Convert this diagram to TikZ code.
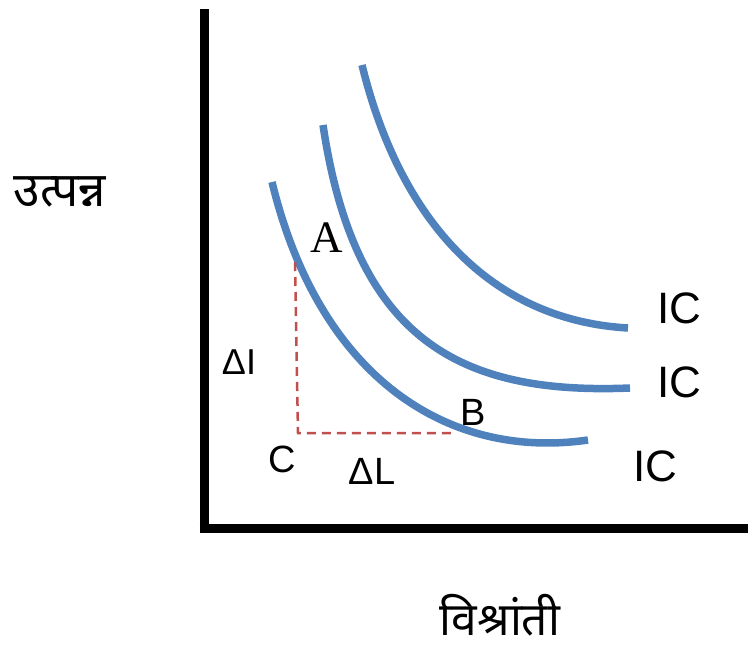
\documentclass[tikz,border=0pt]{standalone}
\usepackage{fontspec}
\setmainfont{Liberation Sans}
\newfontfamily\serifA{Liberation Serif}
\newfontfamily\deva[Script=Devanagari]{Noto Sans}
\begin{document}
\begin{tikzpicture}[x=1pt,y=-1pt,
  axis/.style={line width=9pt,black},
  iccurve/.style={line width=7.5pt,color=icblue},
  guide/.style={line width=2.5pt,color=dashred,dash pattern=on 9pt off 6pt},
  lbl/.style={inner sep=0pt,font=\fontsize{38}{40}\selectfont},
  iclbl/.style={inner sep=0pt,font=\fontsize{44}{46}\selectfont},
  devlbl/.style={inner sep=0pt,font=\deva\fontsize{48}{52}\selectfont}]
\definecolor{icblue}{HTML}{4F81BD}
\definecolor{dashred}{HTML}{C0504D}
\useasboundingbox (0,0) rectangle (748,649);
% axes
\coordinate (top) at (204,9);
\coordinate (origin) at (204,528);
\coordinate (xend) at (748,528);
\draw[axis] (top) -- ([yshift=4.5pt]origin) ;
\draw[axis] ([xshift=-4.5pt]origin) -- (xend);
% curves
\draw[iccurve] (272,182) .. controls (320,380) and (450,460) .. (588,440);
\draw[iccurve] (323,125) .. controls (355,340) and (460,395) .. (630,388);
\draw[iccurve] (362,65) .. controls (400,220) and (490,320) .. (628,328);
% guide lines
\coordinate (pA) at (295,262);
\coordinate (pC) at (298,433);
\coordinate (pB) at (456,433);
\draw[guide] (pA) -- (pC) -- (pB);
% labels
\node[inner sep=0pt,font=\serifA\fontsize{45}{46}\selectfont] (A) at (327,238) {A};
\node[lbl] (B) at (473,412) {B};
\node[lbl] (C) at (282,459) {C};
\node[lbl,font=\fontsize{36}{38}\selectfont] (dI) at (239,362) {ΔI};
\node[lbl] (dL) at (372,471) {ΔL};
\node[iclbl] (ic3) at (679,308) {IC};
\node[iclbl] (ic2) at (679,382) {IC};
\node[iclbl] (ic1) at (655,466) {IC};
\node[devlbl] (ylab) at (60,192) {उत्पन्न};
\node[devlbl,font=\deva\fontsize{46}{50}\selectfont] (xlab) at (500,615) {विश्रांती};
\end{tikzpicture}
\end{document}
